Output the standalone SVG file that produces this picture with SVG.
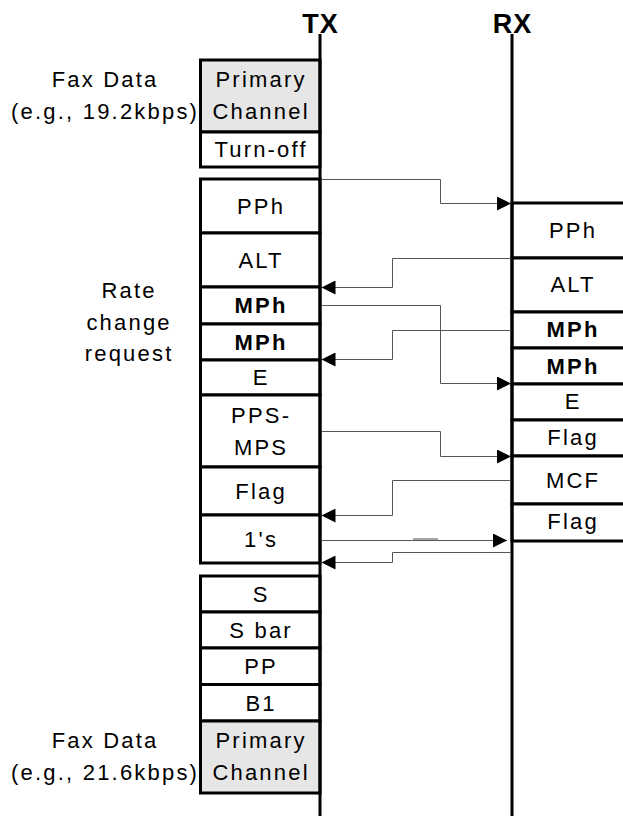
<svg xmlns="http://www.w3.org/2000/svg" width="623" height="816" viewBox="0 0 623 816">
<style>
.t{font-family:"Liberation Sans",Arial,sans-serif;font-size:22px;letter-spacing:2.2px;text-anchor:middle;fill:#000}
.b{font-weight:bold}
.h{font-family:"Liberation Sans",Arial,sans-serif;font-size:27px;font-weight:bold;letter-spacing:1px;text-anchor:middle;fill:#000}
.box{fill:#fff;stroke:#000;stroke-width:3}
.gray{fill:#e6e6e6}
.life{stroke:#000;stroke-width:3;fill:none}
.c{fill:none;stroke:#555;stroke-width:1}
</style>
<defs>
<marker id="arr" markerUnits="userSpaceOnUse" markerWidth="14" markerHeight="14" refX="14" refY="7" orient="auto" viewBox="0 0 14 14">
<path d="M0,0 L14,7 L0,14 z" fill="#000"/>
</marker>
</defs>
<rect width="623" height="816" fill="#fff"/>

<g id="labels">
<text class="h" x="320.5" y="33">TX</text>
<text class="h" x="512.5" y="33">RX</text>
<text class="t" x="105.1" y="87">Fax Data</text>
<text class="t" x="105.1" y="119">(e.g., 19.2kbps)</text>
<text class="t" x="129.1" y="298">Rate</text>
<text class="t" x="129.1" y="330">change</text>
<text class="t" x="129.1" y="361">request</text>
<text class="t" x="105.1" y="748">Fax Data</text>
<text class="t" x="105.1" y="780">(e.g., 21.6kbps)</text>
</g>

<g id="tx-boxes">
<g id="tx-primary1"><rect class="box gray" x="200.5" y="60" width="119.5" height="72"/><text class="t" x="261.1" y="87">Primary</text><text class="t" x="261.1" y="119">Channel</text></g>
<g id="tx-turnoff"><rect class="box" x="200.5" y="132" width="119.5" height="35"/><text class="t" x="261.1" y="157">Turn-off</text></g>
<g id="tx-pph"><rect class="box" x="200.5" y="179" width="119.5" height="54"/><text class="t" x="261.1" y="214">PPh</text></g>
<g id="tx-alt"><rect class="box" x="200.5" y="233" width="119.5" height="54"/><text class="t" x="261.1" y="268">ALT</text></g>
<g id="tx-mph1"><rect class="box" x="200.5" y="287" width="119.5" height="37"/><text class="t b" x="261.1" y="313">MPh</text></g>
<g id="tx-mph2"><rect class="box" x="200.5" y="324" width="119.5" height="36"/><text class="t b" x="261.1" y="349.5">MPh</text></g>
<g id="tx-e"><rect class="box" x="200.5" y="360" width="119.5" height="35"/><text class="t" x="261.1" y="385">E</text></g>
<g id="tx-ppsmps"><rect class="box" x="200.5" y="395" width="119.5" height="72"/><text class="t" x="261.1" y="423">PPS-</text><text class="t" x="261.1" y="455">MPS</text></g>
<g id="tx-flag"><rect class="box" x="200.5" y="467" width="119.5" height="48"/><text class="t" x="261.1" y="498.5">Flag</text></g>
<g id="tx-ones"><rect class="box" x="200.5" y="515" width="119.5" height="48"/><text class="t" x="261.1" y="547">1's</text></g>
<g id="tx-s"><rect class="box" x="200.5" y="576" width="119.5" height="36"/><text class="t" x="261.1" y="602">S</text></g>
<g id="tx-sbar"><rect class="box" x="200.5" y="612" width="119.5" height="36"/><text class="t" x="261.1" y="638">S bar</text></g>
<g id="tx-pp"><rect class="box" x="200.5" y="648" width="119.5" height="36.5"/><text class="t" x="261.1" y="674">PP</text></g>
<g id="tx-b1"><rect class="box" x="200.5" y="684.5" width="119.5" height="36.5"/><text class="t" x="261.1" y="711">B1</text></g>
<g id="tx-primary2"><rect class="box gray" x="200.5" y="721" width="119.5" height="72"/><text class="t" x="261.1" y="748">Primary</text><text class="t" x="261.1" y="780">Channel</text></g>
</g>

<g id="rx-boxes">
<g id="rx-pph"><rect class="box" x="512" y="203" width="130" height="55"/><text class="t" x="573.1" y="238">PPh</text></g>
<g id="rx-alt"><rect class="box" x="512" y="258" width="130" height="54"/><text class="t" x="573.1" y="292">ALT</text></g>
<g id="rx-mph1"><rect class="box" x="512" y="312" width="130" height="36"/><text class="t b" x="573.1" y="337">MPh</text></g>
<g id="rx-mph2"><rect class="box" x="512" y="348" width="130" height="36"/><text class="t b" x="573.1" y="373.5">MPh</text></g>
<g id="rx-e"><rect class="box" x="512" y="384" width="130" height="36"/><text class="t" x="573.1" y="409">E</text></g>
<g id="rx-flag1"><rect class="box" x="512" y="420" width="130" height="36"/><text class="t" x="573.1" y="445">Flag</text></g>
<g id="rx-mcf"><rect class="box" x="512" y="456" width="130" height="48"/><text class="t" x="573.1" y="488">MCF</text></g>
<g id="rx-flag2"><rect class="box" x="512" y="504" width="130" height="37"/><text class="t" x="573.1" y="528.5">Flag</text></g>
</g>

<g id="lifelines">
<line class="life" x1="320" y1="34" x2="320" y2="816"/>
<line class="life" x1="512" y1="34" x2="512" y2="816"/>
</g>

<g id="connectors">
<path class="c" d="M321.5,179.5 H440.5 V203.5 H511" marker-end="url(#arr)"/>
<path class="c" d="M511,258.5 H392.5 V287.5 H321.5" marker-end="url(#arr)"/>
<path class="c" d="M321.5,305.5 H440.5 V383.5 H511" marker-end="url(#arr)"/>
<path class="c" d="M511,330.5 H392.5 V359.5 H321.5" marker-end="url(#arr)"/>
<path class="c" d="M321.5,431.5 H440.5 V456.5 H511" marker-end="url(#arr)"/>
<path class="c" d="M511,480.5 H392.5 V515.5 H321.5" marker-end="url(#arr)"/>
<path class="c" d="M321.5,540.5 H507" marker-end="url(#arr)"/>
<line x1="413" y1="539" x2="438" y2="539" stroke="#888" stroke-width="1.5"/>
<path class="c" d="M511,552.5 H392.5 V562.5 H321.5" marker-end="url(#arr)"/>
</g>
</svg>
